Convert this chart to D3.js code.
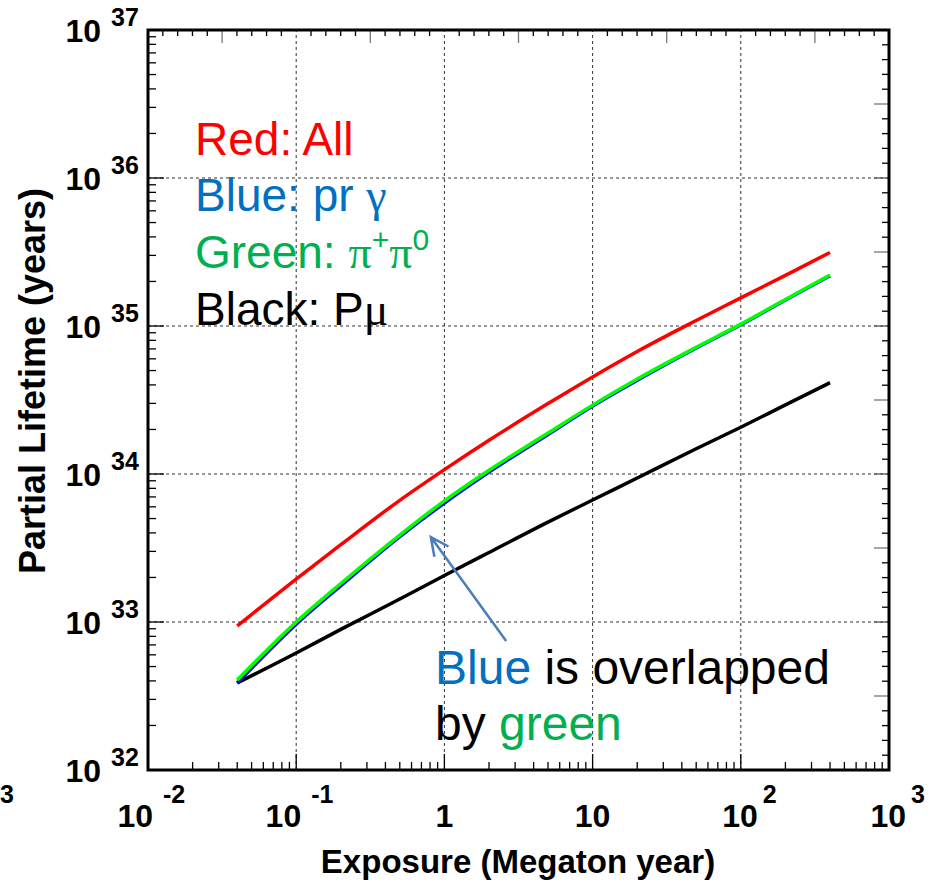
<!DOCTYPE html>
<html>
<head>
<meta charset="utf-8">
<script src="https://cdn.jsdelivr.net/npm/d3@7"></script>
<style>
  body { margin: 0; background: #fff; }
  svg { display: block; }
</style>
</head>
<body>
<script>
// exposure in Megaton year
const exposure = [0.04, 0.1, 0.2, 0.5, 1, 2, 5, 10, 20, 50, 100, 200, 400];
// partial lifetime (years)
const allModes = [9.4e32, 1.95e33, 3.33e33, 6.64e33, 1.07e34, 1.69e34, 2.99e34, 4.53e34, 6.73e34, 1.09e35, 1.55e35, 2.2e35, 3.14e35];
const prGamma  = [3.87e32, 9.68e32, 1.76e33, 3.78e33, 6.37e33, 1.03e34, 1.85e34, 2.88e34, 4.3e34, 7.1e34, 1.02e35, 1.5e35, 2.19e35];
const piPi0    = [4.06e32, 1.0e33, 1.82e33, 3.87e33, 6.58e33, 1.06e34, 1.89e34, 2.92e34, 4.38e34, 7.18e34, 1.03e35, 1.51e35, 2.21e35];
const pMu      = [3.87e32, 6.17e32, 8.91e32, 1.43e33, 2.06e33, 2.95e33, 4.73e33, 6.67e33, 9.4e33, 1.48e34, 2.07e34, 2.93e34, 4.14e34];

const xExponents = [-2, -1, 0, 1, 2, 3];
const yExponents = [32, 33, 34, 35, 36, 37];

const W = 931, H = 884;
const bold = "'Liberation Sans', Arial, sans-serif";

const svg = d3.select('body').append('svg')
  .attr('width', W)
  .attr('height', H)

const x = d3.scaleLog().domain([1e-2, 1e3]).range([148, 889])
const y = d3.scaleLog().domain([1e32, 1e37]).range([770, 30])

// grid
const grid = svg.append('g')
grid.selectAll('.gx')
  .data(xExponents.slice(1, -1))
  .enter().append('line')
  .attr('x1', d => x(Math.pow(10, d))).attr('x2', d => x(Math.pow(10, d)))
  .attr('y1', y(1e32)).attr('y2', y(1e37))
  .attr('stroke', '#333').attr('stroke-width', 1).attr('stroke-dasharray', '3,3')
grid.selectAll('.gy')
  .data(yExponents.slice(1, -1))
  .enter().append('line')
  .attr('y1', d => y(Math.pow(10, d))).attr('y2', d => y(Math.pow(10, d)))
  .attr('x1', x(1e-2)).attr('x2', x(1e3))
  .attr('stroke', '#333').attr('stroke-width', 1).attr('stroke-dasharray', '3,3')

// left + bottom: normal log ticks
const minorX = [], minorY = []
xExponents.slice(0, -1).forEach(e => { for (let m = 2; m <= 9; m++) minorX.push(m * Math.pow(10, e)) })
yExponents.slice(0, -1).forEach(e => { for (let m = 2; m <= 9; m++) minorY.push(m * Math.pow(10, e)) })

const ticks = svg.append('g').attr('stroke', '#000').attr('stroke-width', 1.3)
ticks.selectAll('.lt').data(minorY).enter().append('line')
  .attr('x1', x(1e-2)).attr('x2', x(1e-2) + 8)
  .attr('y1', d => y(d)).attr('y2', d => y(d))
ticks.selectAll('.lM').data(yExponents).enter().append('line')
  .attr('x1', x(1e-2)).attr('x2', x(1e-2) + 16)
  .attr('y1', d => y(Math.pow(10, d))).attr('y2', d => y(Math.pow(10, d)))
ticks.selectAll('.bt').data(minorX).enter().append('line')
  .attr('y1', y(1e32)).attr('y2', y(1e32) - 8)
  .attr('x1', d => x(d)).attr('x2', d => x(d))
ticks.selectAll('.bM').data(xExponents).enter().append('line')
  .attr('y1', y(1e32)).attr('y2', y(1e32) - 16)
  .attr('x1', d => x(Math.pow(10, d))).attr('x2', d => x(Math.pow(10, d)))

// top + right: evenly spaced ticks (tenths of a decade), longer at half decades
const topSteps = d3.range(1, 50)
const rightSteps = d3.range(1, 50)
svg.append('g').selectAll('line').data(topSteps).enter().append('line')
  .attr('x1', k => x(Math.pow(10, -2 + k / 10))).attr('x2', k => x(Math.pow(10, -2 + k / 10)))
  .attr('y1', y(1e37)).attr('y2', k => y(1e37) + (k % 10 === 5 ? 13 : (k % 10 === 0 ? 0 : 6)))
  .attr('stroke', k => k % 10 === 5 ? '#777' : '#000').attr('stroke-width', 1.3)
svg.append('g').selectAll('line').data(rightSteps).enter().append('line')
  .attr('y1', k => y(Math.pow(10, 32 + k / 10))).attr('y2', k => y(Math.pow(10, 32 + k / 10)))
  .attr('x1', x(1e3)).attr('x2', k => x(1e3) - (k % 10 === 5 ? 15 : (k % 10 === 0 ? 15 : 7)))
  .attr('stroke', k => k % 10 === 0 ? '#555' : (k % 10 === 5 ? '#777' : '#000')).attr('stroke-width', 1.3)

// frame
svg.append('rect')
  .attr('x', x(1e-2)).attr('y', y(1e37))
  .attr('width', x(1e3) - x(1e-2)).attr('height', y(1e32) - y(1e37))
  .attr('fill', 'none').attr('stroke', '#000').attr('stroke-width', 3)

// curves
const line = d3.line().x(d => x(d[0])).y(d => y(d[1])).curve(d3.curveMonotoneX)
const series = [
  { vals: pMu, color: '#000000', w: 3.5 },
  { vals: prGamma, color: '#0000ff', w: 3.5 },
  { vals: piPi0, color: '#00ff00', w: 3.5 },
  { vals: allModes, color: '#ff0000', w: 3.5 }
]
svg.selectAll('.curve').data(series).enter().append('path')
  .attr('d', s => line(exposure.map((e, i) => [e, s.vals[i]])))
  .attr('fill', 'none')
  .attr('stroke', s => s.color)
  .attr('stroke-width', s => s.w)
  .attr('stroke-linejoin', 'round')

// y tick labels
const yl = svg.append('g').attr('font-family', bold).attr('font-weight', 'bold').attr('fill', '#000')
yExponents.forEach(e => {
  yl.append('text').attr('x', 101).attr('y', y(Math.pow(10, e)) + 12)
    .attr('text-anchor', 'end').attr('font-size', 32).text('10')
  yl.append('text').attr('x', 111).attr('y', y(Math.pow(10, e)) - 4).attr('font-size', 25).text(e)
})

// x tick labels
const xl = svg.append('g').attr('font-family', bold).attr('font-weight', 'bold').attr('fill', '#000')
xExponents.forEach(e => {
  const px = x(Math.pow(10, e))
  if (e === 0) {
    xl.append('text').attr('x', px).attr('y', 827).attr('text-anchor', 'middle').attr('font-size', 32).text('1')
  } else if (e === 1) {
    xl.append('text').attr('x', px).attr('y', 827).attr('text-anchor', 'middle').attr('font-size', 32).text('10')
  } else {
    const end = e < 0 ? px + 5 : px + 17
    xl.append('text').attr('x', end).attr('y', 827).attr('text-anchor', 'end').attr('font-size', 32).text('10')
    xl.append('text').attr('x', end + (e < 0 ? 10 : 5)).attr('y', 803).attr('font-size', 25).text(e)
  }
})
// leftover label at the left edge
xl.append('text').attr('x', 0).attr('y', 803).attr('font-size', 25).text('3')

// axis titles
svg.append('text')
  .attr('x', 518).attr('y', 873)
  .attr('text-anchor', 'middle')
  .attr('font-family', bold).attr('font-weight', 'bold').attr('font-size', 33)
  .text('Exposure (Megaton year)')
svg.append('text')
  .attr('transform', 'translate(45,381) rotate(-90)')
  .attr('text-anchor', 'middle')
  .attr('font-family', bold).attr('font-weight', 'bold').attr('font-size', 36)
  .text('Partial Lifetime (years)')

// legend text
const sans = "'Liberation Sans', Arial, sans-serif"
const serif = "'Liberation Serif', 'Times New Roman', serif"
const leg = svg.append('g').attr('font-family', sans).attr('font-size', 46)
leg.append('text').attr('x', 195).attr('y', 155).attr('fill', '#ff0000').text('Red: All')
const b = leg.append('text').attr('x', 195).attr('y', 211).attr('fill', '#0070c0')
b.append('tspan').text('Blue: pr ')
b.append('tspan').attr('font-family', serif).text('γ')
const g = leg.append('text').attr('x', 195).attr('y', 268).attr('fill', '#00b050')
g.append('tspan').text('Green: ')
g.append('tspan').attr('font-family', serif).text('π')
g.append('tspan').attr('font-size', 30).attr('dy', -18).text('+')
g.append('tspan').attr('font-family', serif).attr('dy', 18).text('π')
g.append('tspan').attr('font-size', 30).attr('dy', -18).text('0')
const k = leg.append('text').attr('x', 195).attr('y', 325).attr('fill', '#000')
k.append('tspan').text('Black: P')
k.append('tspan').attr('font-family', serif).text('μ')

// annotation
const ann = svg.append('g').attr('font-family', sans).attr('font-size', 48)
const a1 = ann.append('text').attr('x', 435).attr('y', 684).attr('fill', '#000')
a1.append('tspan').attr('fill', '#0070c0').text('Blue')
a1.append('tspan').text(' is overlapped')
const a2 = ann.append('text').attr('x', 435).attr('y', 740).attr('fill', '#000')
a2.append('tspan').text('by ')
a2.append('tspan').attr('fill', '#00b050').text('green')

// arrow (in data coordinates)
const arrowTail = [2.61, 7.45e32]
const arrowTip = [0.81, 3.75e33]
const tx = x(arrowTail[0]), ty = y(arrowTail[1]), hx = x(arrowTip[0]), hy = y(arrowTip[1])
const ang = Math.atan2(ty - hy, tx - hx)
const arm = 20, spread = 0.45
svg.append('path')
  .attr('d', `M${tx},${ty}L${hx},${hy}M${hx + arm * Math.cos(ang - spread)},${hy + arm * Math.sin(ang - spread)}L${hx},${hy}L${hx + arm * Math.cos(ang + spread)},${hy + arm * Math.sin(ang + spread)}`)
  .attr('fill', 'none').attr('stroke', '#4a7ebb').attr('stroke-width', 2.5)
</script>
</body>
</html>
